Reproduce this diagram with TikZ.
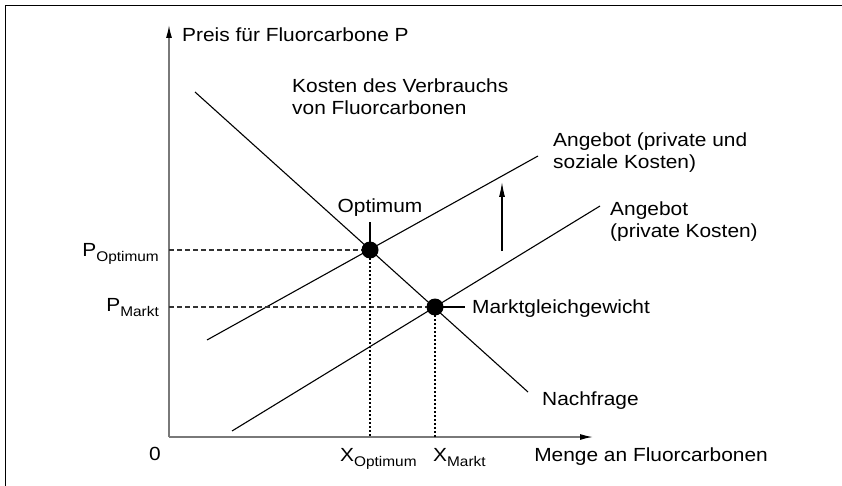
\documentclass[tikz,border=0pt]{standalone}
\usepackage{fontspec}
\setmainfont{Liberation Sans}[FakeStretch=1.1]
\usetikzlibrary{arrows.meta}
\newcommand\subtxt[1]{\raisebox{-0.3em}{\fontsize{14}{16}\selectfont #1}}
\begin{document}
\begin{tikzpicture}[x=1pt,y=-1pt,
  every node/.style={inner sep=0pt, font=\fontsize{19}{22}\selectfont},
  frameline/.style={line width=1.1pt, black},
  axisline/.style={line width=1.4pt, gray!95!black, -{Latex[length=13pt,width=6pt,color=black]}},
  curve/.style={line width=1.1pt, black},
  guide/.style={line width=1.1pt, black!80, dash pattern=on 5pt off 3pt},
  dotguide/.style={line width=1.1pt, black, dash pattern=on 2pt off 2pt},
  eqdot/.style={circle, fill=black, minimum size=17pt},
  shiftarrow/.style={line width=1.1pt, black, -{Latex[length=15pt,width=6pt]}}]
\useasboundingbox (0,0) rectangle (842,486);
\draw[frameline] (5.5,486) -- (5.5,5.5) -- (842,5.5);
% axes
\coordinate (O) at (169,437);
\coordinate (ytop) at (169,25);
\coordinate (xend) at (593,437);
\draw[axisline] (O) -- (ytop);
\draw[axisline] (O) -- (xend);
% curves
\coordinate (d1) at (195,92);
\coordinate (d2) at (528,392);
\coordinate (s1) at (207,340);
\coordinate (s2) at (538,156);
\coordinate (p1) at (232,431);
\coordinate (p2) at (600,206);
\draw[curve] (d1) -- (d2);
\draw[curve] (s1) -- (s2);
\draw[curve] (p1) -- (p2);
% equilibria
\coordinate (optc) at (370,250);
\coordinate (mktc) at (435,307);
\draw[guide] (O |- optc) -- (optc);
\draw[guide] (O |- mktc) -- (mktc);
\draw[dotguide] (optc) -- (optc |- O);
\draw[dotguide] (mktc) -- (mktc |- O);
\coordinate (optlabfoot) at (370,222);
\coordinate (mktlabfoot) at (465,307);
\draw[curve] (optc) -- (optlabfoot);
\draw[curve] (mktc) -- (mktlabfoot);
\node[eqdot] (opt) at (optc) {};
\node[eqdot] (mkt) at (mktc) {};
% shift arrow
\coordinate (a1) at (502,251);
\coordinate (a2) at (502,182);
\draw[shiftarrow] (a1) -- (a2);
% labels
\node[anchor=base west] (ylab) at (182,42) {Preis für Fluorcarbone P};
\node[anchor=base west, align=left] (cost) at (292,115) {Kosten des Verbrauchs\\von Fluorcarbonen};
\node[anchor=base west, align=left] (soc) at (553,169) {Angebot (private und\\soziale Kosten)};
\node[anchor=base west, align=left] (priv) at (610,237) {Angebot\\(private Kosten)};
\node[anchor=base west] (nach) at (542,405) {Nachfrage};
\node[anchor=base west] (mktlab) at (472,313) {Marktgleichgewicht};
\node[anchor=base] (optlab) at (380,213) {Optimum};
\node[anchor=base east] (pop) at (159,256) {P\subtxt{Optimum}};
\node[anchor=base east] (pm) at (159,311) {P\subtxt{Markt}};
\node[anchor=base] (zero) at (155,460) {0};
\node[anchor=base west] (xop) at (340,461) {X\subtxt{Optimum}};
\node[anchor=base west] (xm) at (433,461) {X\subtxt{Markt}};
\node[anchor=base east] (menge) at (768,461) {Menge an Fluorcarbonen};
\end{tikzpicture}
\end{document}
